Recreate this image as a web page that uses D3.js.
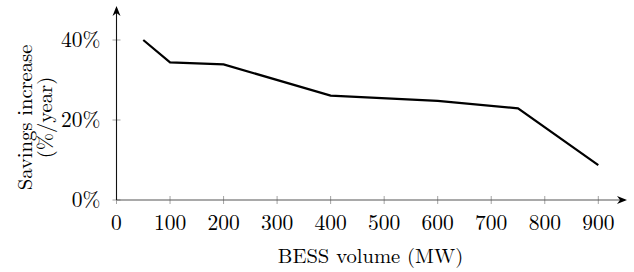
<!DOCTYPE html>
<html>
<head>
<meta charset="utf-8">
<script src="https://cdn.jsdelivr.net/npm/d3@7"></script>
<style>
  body { margin: 0; background: #fff; }
  text { font-family: "Latin Modern Roman", "CMU Serif", "Liberation Serif", "DejaVu Serif", serif; fill: #000; }
</style>
</head>
<body>
<svg id="chart" width="634" height="272"></svg>
<script>
// data
var volumes = [50, 100, 200, 400, 600, 750, 900];
var savings = [40.0, 34.4, 33.9, 26.1, 24.8, 22.9, 8.7];
var xTicks = [0, 100, 200, 300, 400, 500, 600, 700, 800, 900];
var yTicks = [0, 20, 40];

var svg = d3.select("#chart");
var x = d3.scaleLinear().domain([0, 900]).range([116.5, 598.3]);
var y = d3.scaleLinear().domain([0, 40]).range([200, 40]);
var axisColor = "#555";
var tickColor = "#999";
var tickFont = "21.5px";
var labelFont = "20.6px";

// ticks on x axis
var gx = svg.append("g").attr("transform", "translate(0,200)");
gx.selectAll("line").data(xTicks).enter().append("line")
  .attr("x1", d => x(d)).attr("x2", d => x(d))
  .attr("y1", -4).attr("y2", 4)
  .style("stroke", tickColor).style("stroke-width", 0.9);
gx.selectAll("text").data(xTicks).enter().append("text")
  .attr("x", d => x(d)).attr("y", 29.5)
  .attr("text-anchor", "middle")
  .style("font-size", tickFont)
  .text(d => d);

// ticks on y axis
var gy = svg.append("g").attr("transform", "translate(" + x(0) + ",0)");
gy.selectAll("line").data(yTicks).enter().append("line")
  .attr("x1", -4).attr("x2", 4)
  .attr("y1", d => y(d)).attr("y2", d => y(d))
  .style("stroke", tickColor).style("stroke-width", 0.9);
gy.selectAll("text").data(yTicks).enter().append("text")
  .attr("x", -16).attr("y", d => y(d))
  .attr("dy", "0.33em")
  .attr("text-anchor", "end")
  .style("font-size", tickFont)
  .text(d => d + "%");

// arrow heads
var defs = svg.append("defs");
defs.append("marker").attr("id", "arrow")
  .attr("viewBox", "0 0 10 10").attr("refX", 8).attr("refY", 5)
  .attr("markerWidth", 10).attr("markerHeight", 10)
  .attr("markerUnits", "userSpaceOnUse")
  .attr("orient", "auto")
  .append("path").attr("d", "M0,1 L10,5 L0,9 L3,5 Z").style("fill", "#000");

// axis lines
svg.append("line")
  .attr("x1", x(0)).attr("x2", 625)
  .attr("y1", y(0)).attr("y2", y(0))
  .style("stroke", axisColor).style("stroke-width", 1.1)
  .attr("marker-end", "url(#arrow)");
svg.append("line")
  .attr("x1", x(0)).attr("x2", x(0))
  .attr("y1", y(0)).attr("y2", 8)
  .style("stroke", "#111").style("stroke-width", 1.1)
  .attr("marker-end", "url(#arrow)");

// data line
var line = d3.line().x((d, i) => x(volumes[i])).y(d => y(d));
svg.append("path").datum(savings)
  .attr("d", line)
  .style("fill", "none")
  .style("stroke", "#000")
  .style("stroke-width", 2.2)
  .style("stroke-linejoin", "miter");

// axis labels
svg.append("text")
  .attr("x", 370.5).attr("y", 263)
  .attr("text-anchor", "middle")
  .style("font-size", labelFont)
  .text("BESS volume (MW)");

var yl = svg.append("g").attr("transform", "translate(0,117.5) rotate(-90)");
yl.append("text").attr("x", 0).attr("y", 32)
  .attr("text-anchor", "middle").style("font-size", labelFont)
  .text("Savings increase");
yl.append("text").attr("x", 0).attr("y", 52)
  .attr("text-anchor", "middle").style("font-size", labelFont)
  .text("(%/year)");
</script>
</body>
</html>
